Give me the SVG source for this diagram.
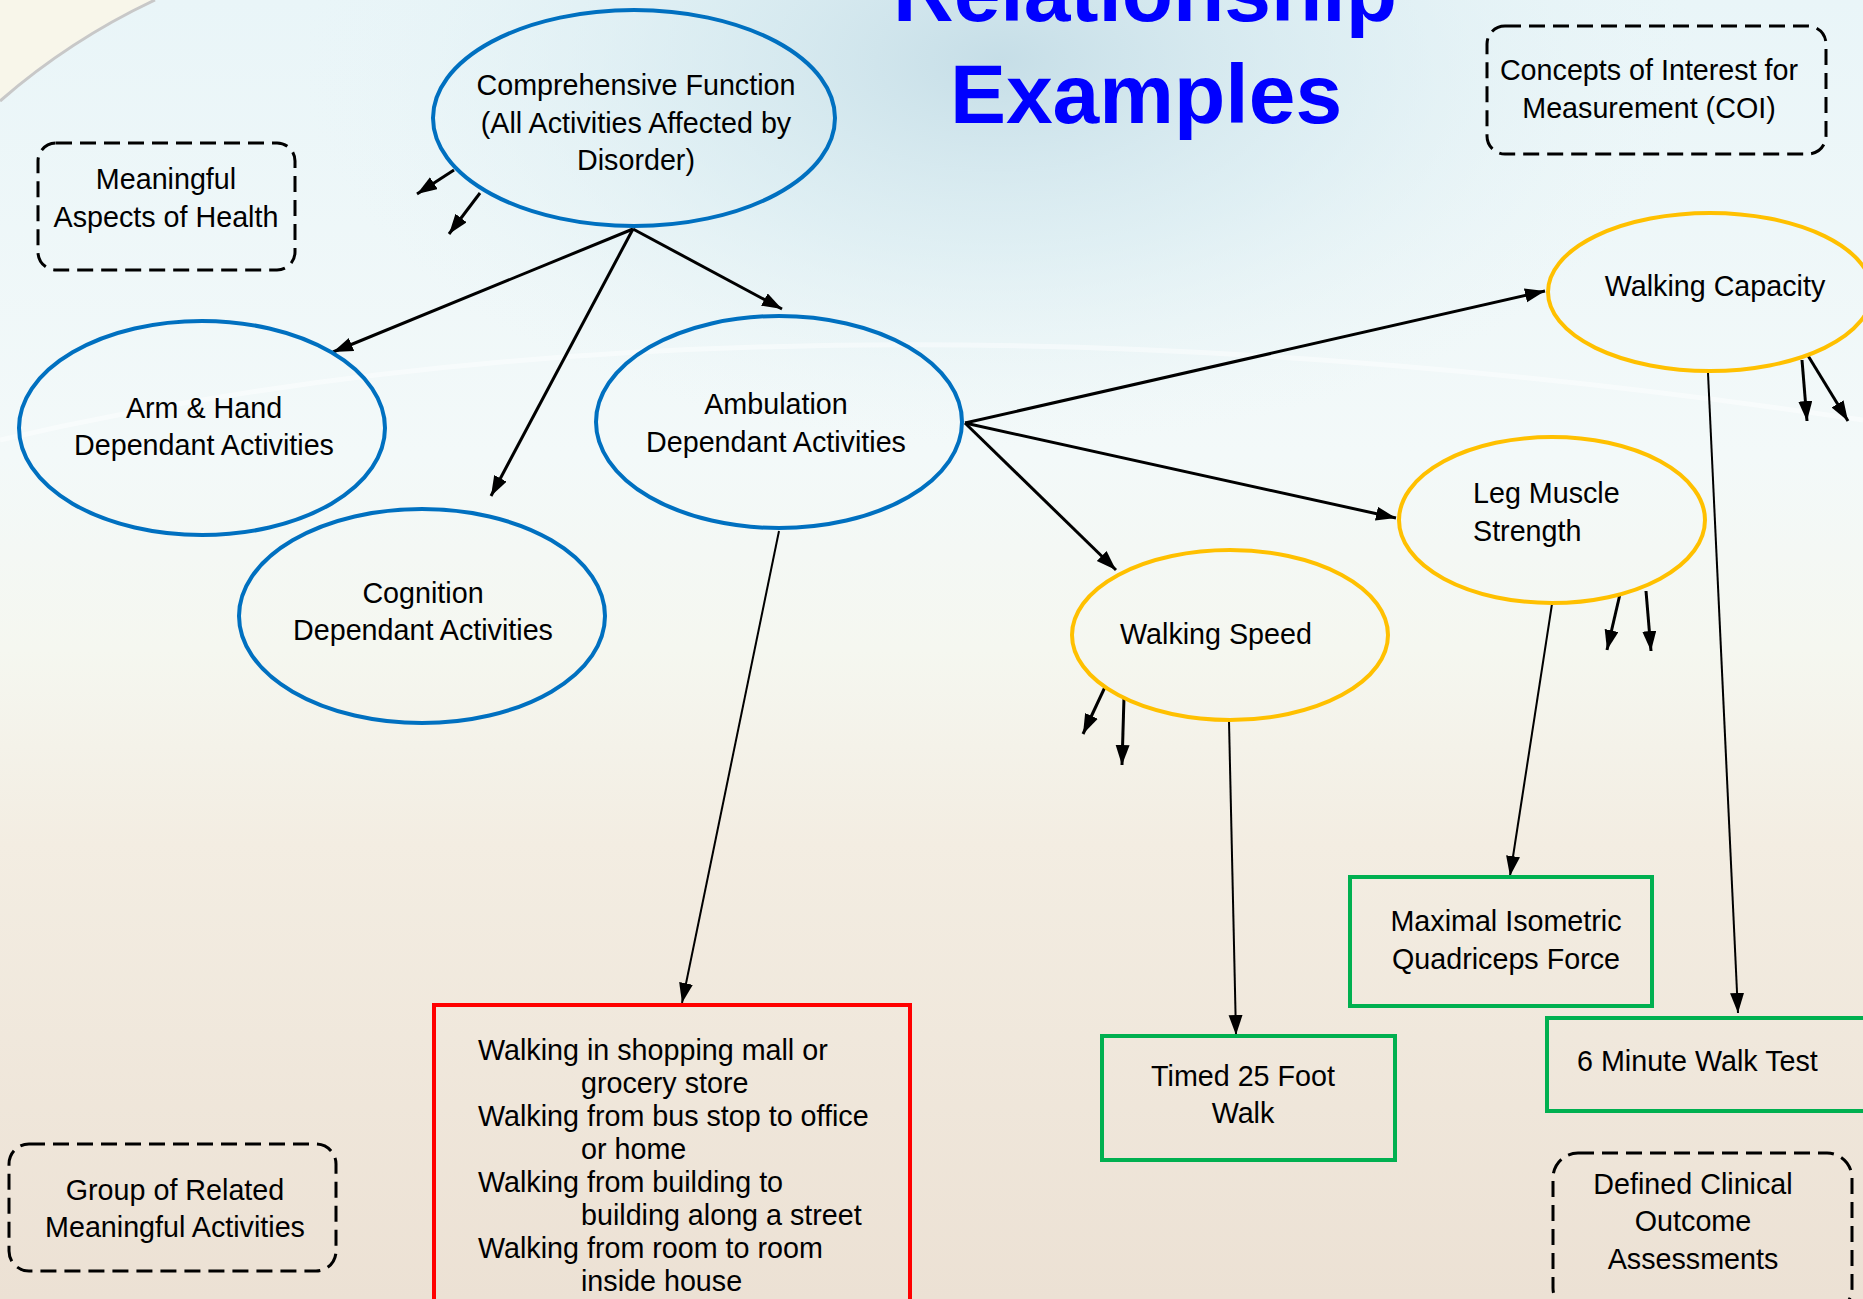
<svg xmlns="http://www.w3.org/2000/svg" width="1863" height="1299" viewBox="0 0 1863 1299">
  <defs>
    <linearGradient id="bg" x1="0" y1="0" x2="0" y2="1">
      <stop offset="0" stop-color="#e9f5f8"/>
      <stop offset="0.35" stop-color="#f3f9f9"/>
      <stop offset="0.5" stop-color="#f5f7f0"/>
      <stop offset="0.65" stop-color="#f3ede2"/>
      <stop offset="1" stop-color="#ece1d4"/>
    </linearGradient>
    <radialGradient id="blue" cx="1000" cy="60" r="700" gradientUnits="userSpaceOnUse" gradientTransform="translate(1000 60) scale(1 0.55) translate(-1000 -60)">
      <stop offset="0" stop-color="#c6dee7" stop-opacity="1"/>
      <stop offset="0.5" stop-color="#d6eaf0" stop-opacity="0.6"/>
      <stop offset="1" stop-color="#e8f4f6" stop-opacity="0"/>
    </radialGradient>
    <marker id="arr" markerUnits="userSpaceOnUse" markerWidth="22" markerHeight="16" refX="20" refY="7" orient="auto">
      <path d="M0,0 L20,7 L0,14 z" fill="#000"/>
    </marker>
    <style>
      .t { font-family: "Liberation Sans", Arial, sans-serif; font-size: 28.7px; fill: #000; }
      .m { text-anchor: middle; }
      .blue { fill: none; stroke: #0070C0; stroke-width: 4; }
      .orange { fill: none; stroke: #FFC000; stroke-width: 4; }
      .green { fill: none; stroke: #00B050; stroke-width: 4; }
      .red { fill: none; stroke: #FF0000; stroke-width: 4; }
      .dash { fill: none; stroke: #000; stroke-width: 3; stroke-dasharray: 16 8; }
      .c { fill: none; stroke: #000; stroke-width: 3; marker-end: url(#arr); }
      .c2 { fill: none; stroke: #000; stroke-width: 2; marker-end: url(#arr); }
      .title { font-family: "Liberation Sans", Arial, sans-serif; font-weight: bold; font-size: 84px; fill: #0000FF; text-anchor: middle; }
    </style>
  </defs>

  <!-- background -->
  <rect x="0" y="0" width="1863" height="1299" fill="url(#bg)"/>
  <rect x="0" y="0" width="1863" height="700" fill="url(#blue)"/>
  <path d="M0,0 L155,0 Q70,40 0,101 Z" fill="#f8f6ea"/>
  <path d="M0,101 Q70,40 155,0" fill="none" stroke="#c8c8c8" stroke-width="3"/>
  <path d="M0,440 Q780,260 1863,420" fill="none" stroke="#ffffff" stroke-opacity="0.45" stroke-width="5"/>

  <!-- title -->
  <text class="title" x="1145" y="21">Relationship</text>
  <text class="title" x="1146" y="123">Examples</text>

  <!-- legend boxes -->
  <g id="legend-meaningful">
    <rect class="dash" x="38" y="143" width="257" height="127" rx="18"/>
    <text class="t m" x="166" y="189">Meaningful</text>
    <text class="t m" x="166" y="227">Aspects of Health</text>
  </g>
  <g id="legend-group">
    <rect class="dash" x="9" y="1144" width="327" height="127" rx="20"/>
    <text class="t m" x="175" y="1200">Group of Related</text>
    <text class="t m" x="175" y="1237">Meaningful Activities</text>
  </g>
  <g id="legend-coi">
    <rect class="dash" x="1487" y="26" width="339" height="128" rx="18"/>
    <text class="t m" x="1649" y="80">Concepts of Interest for</text>
    <text class="t m" x="1649" y="118">Measurement (COI)</text>
  </g>
  <g id="legend-coa">
    <rect class="dash" x="1553" y="1153" width="299" height="160" rx="25"/>
    <text class="t m" x="1693" y="1194">Defined Clinical</text>
    <text class="t m" x="1693" y="1231">Outcome</text>
    <text class="t m" x="1693" y="1269">Assessments</text>
  </g>

  <!-- connectors -->
  <g id="connectors">
    <line class="c" x1="454" y1="170" x2="417" y2="194"/>
    <line class="c" x1="480" y1="193" x2="449" y2="234"/>
    <line class="c" x1="633" y1="229" x2="333" y2="352"/>
    <line class="c" x1="633" y1="229" x2="491" y2="496"/>
    <line class="c" x1="633" y1="229" x2="782" y2="309"/>
    <line class="c2" x1="779" y1="531" x2="682" y2="1003"/>
    <line class="c" x1="965" y1="423" x2="1545" y2="291"/>
    <line class="c" x1="965" y1="423" x2="1396" y2="518"/>
    <line class="c" x1="965" y1="423" x2="1116" y2="570"/>
    <line class="c" x1="1802" y1="360" x2="1807" y2="421"/>
    <line class="c" x1="1807" y1="354" x2="1848" y2="421"/>
    <line class="c2" x1="1708" y1="373" x2="1738" y2="1013"/>
    <line class="c" x1="1620" y1="594" x2="1607" y2="650"/>
    <line class="c" x1="1646" y1="591" x2="1651" y2="651"/>
    <line class="c2" x1="1552" y1="604" x2="1510" y2="876"/>
    <line class="c" x1="1105" y1="687" x2="1083" y2="734"/>
    <line class="c" x1="1124" y1="697" x2="1122" y2="765"/>
    <line class="c2" x1="1229" y1="721" x2="1236" y2="1035"/>
  </g>

  <!-- blue nodes -->
  <g id="comprehensive">
    <ellipse class="blue" cx="634" cy="118" rx="201" ry="108"/>
    <text class="t m" x="636" y="95">Comprehensive Function</text>
    <text class="t m" x="636" y="133">(All Activities Affected by</text>
    <text class="t m" x="636" y="170">Disorder)</text>
  </g>
  <g id="arm-hand">
    <ellipse class="blue" cx="202" cy="428" rx="183" ry="107"/>
    <text class="t m" x="204" y="418">Arm &amp; Hand</text>
    <text class="t m" x="204" y="455">Dependant Activities</text>
  </g>
  <g id="ambulation">
    <ellipse class="blue" cx="779" cy="422" rx="183" ry="106"/>
    <text class="t m" x="776" y="414">Ambulation</text>
    <text class="t m" x="776" y="452">Dependant Activities</text>
  </g>
  <g id="cognition">
    <ellipse class="blue" cx="422" cy="616" rx="183" ry="107"/>
    <text class="t m" x="423" y="603">Cognition</text>
    <text class="t m" x="423" y="640">Dependant Activities</text>
  </g>

  <!-- orange nodes -->
  <g id="walking-capacity">
    <ellipse class="orange" cx="1710" cy="292" rx="162" ry="79"/>
    <text class="t m" x="1715" y="296">Walking Capacity</text>
  </g>
  <g id="leg-muscle">
    <ellipse class="orange" cx="1552" cy="520" rx="153" ry="83"/>
    <text class="t" x="1473" y="503">Leg Muscle</text>
    <text class="t" x="1473" y="541">Strength</text>
  </g>
  <g id="walking-speed">
    <ellipse class="orange" cx="1230" cy="635" rx="158" ry="85"/>
    <text class="t m" x="1216" y="644">Walking Speed</text>
  </g>

  <!-- red node -->
  <g id="activities">
    <rect class="red" x="434" y="1005" width="476" height="320"/>
    <text class="t" x="478" y="1060">Walking in shopping mall or</text>
    <text class="t" x="581" y="1093">grocery store</text>
    <text class="t" x="478" y="1126">Walking from bus stop to office</text>
    <text class="t" x="581" y="1159">or home</text>
    <text class="t" x="478" y="1192">Walking from building to</text>
    <text class="t" x="581" y="1225">building along a street</text>
    <text class="t" x="478" y="1258">Walking from room to room</text>
    <text class="t" x="581" y="1291">inside house</text>
  </g>

  <!-- green nodes -->
  <g id="timed-25">
    <rect class="green" x="1102" y="1036" width="293" height="124"/>
    <text class="t m" x="1243" y="1086">Timed 25 Foot</text>
    <text class="t m" x="1243" y="1123">Walk</text>
  </g>
  <g id="maximal-isometric">
    <rect class="green" x="1350" y="877" width="302" height="129"/>
    <text class="t m" x="1506" y="931">Maximal Isometric</text>
    <text class="t m" x="1506" y="969">Quadriceps Force</text>
  </g>
  <g id="six-minute">
    <rect class="green" x="1547" y="1018" width="340" height="93"/>
    <text class="t" x="1577" y="1071">6 Minute Walk Test</text>
  </g>
</svg>
